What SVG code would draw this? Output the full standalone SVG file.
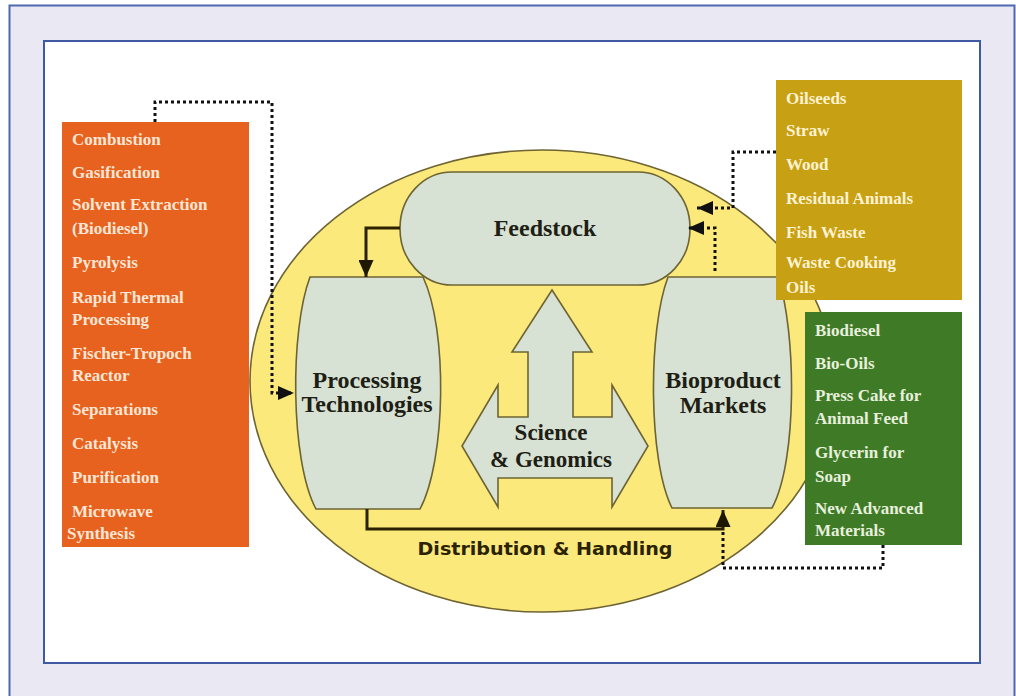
<svg xmlns="http://www.w3.org/2000/svg" width="1016" height="696" viewBox="0 0 1016 696">
<style>
.frame{fill:#e9e8f3;stroke:#4f68ad;stroke-width:2}
.inner{fill:#ffffff;stroke:#3f5aa3;stroke-width:2}
.hub{fill:#fbe97c;stroke:#6e6433;stroke-width:1.6}
.node{fill:#d7e2d4;stroke:#6e6433;stroke-width:1.6}
.lbl{font-family:"Liberation Serif","Times New Roman",serif;font-weight:bold;fill:#1e1e14;text-anchor:middle}
.big{font-size:24px}
.sci{font-size:23px}
.list{font-family:"Liberation Serif","Times New Roman",serif;font-weight:bold;font-size:17px}
.o{fill:#fde6d6}
.m{fill:#fdf3d2}
.g{fill:#e7f0dc}
.solid{fill:none;stroke:#2b2200;stroke-width:3}
.dot{fill:none;stroke:#111;stroke-width:3;stroke-dasharray:3 3}
.dist{font-family:"DejaVu Sans","Verdana",sans-serif;font-weight:bold;font-size:18px;fill:#2b2200;text-anchor:middle}
</style>
<defs>
<marker id="ah" viewBox="0 0 16 14" refX="16" refY="7" markerWidth="16" markerHeight="14" orient="auto" markerUnits="userSpaceOnUse">
<path d="M0,0 L16,7 L0,14 Z" fill="#111"/>
</marker>
<marker id="ahs" viewBox="0 0 17 15" refX="17" refY="7.5" markerWidth="17" markerHeight="15" orient="auto" markerUnits="userSpaceOnUse">
<path d="M0,0 L17,7.5 L0,15 Z" fill="#1e1800"/>
</marker>
</defs>

<g id="background">
<rect class="frame" x="9.5" y="5.5" width="1005" height="700"/>
<rect class="inner" x="44" y="41" width="936" height="622"/>
</g>

<g id="hub">
<ellipse class="hub" cx="542" cy="381" rx="292" ry="231"/>
</g>

<g id="processing">
<path class="node" d="M310,277 L423,277 C448,330 446,460 420,509 L316,509 C290,460 290,330 310,277 Z"/>
<text class="lbl big" x="367" y="388">Processing</text>
<text class="lbl big" x="367" y="412">Technologies</text>
</g>

<g id="bioproduct">
<path class="node" d="M668,277 L778,277 C796,330 798,460 772,508 L672,508 C648,460 648,330 668,277 Z"/>
<text class="lbl big" x="723" y="388">Bioproduct</text>
<text class="lbl big" x="723" y="413">Markets</text>
</g>

<g id="feedstock">
<rect class="node" x="400" y="172" width="290" height="113" rx="52" ry="56"/>
<text class="lbl big" x="545" y="236">Feedstock</text>
</g>

<g id="science">
<path class="node" d="M552,290 L592,352 L573,352 L573,417 L612,417 L612,385 L648,446 L612,507 L612,478 L498,478 L498,507 L462,446 L498,385 L498,417 L528,417 L528,352 L512,352 Z"/>
<text class="lbl sci" x="551" y="440">Science</text>
<text class="lbl sci" x="551" y="467">&amp; Genomics</text>
</g>

<g id="technologies">
<rect x="62" y="122" width="187" height="425" fill="#e6621e"/>
<g class="list o">
<text x="72" y="145">Combustion</text>
<text x="72" y="178">Gasification</text>
<text x="72" y="210">Solvent Extraction</text>
<text x="72" y="234">(Biodiesel)</text>
<text x="72" y="268">Pyrolysis</text>
<text x="72" y="303">Rapid Thermal</text>
<text x="72" y="325">Processing</text>
<text x="72" y="359">Fischer-Tropoch</text>
<text x="72" y="381">Reactor</text>
<text x="72" y="415">Separations</text>
<text x="72" y="449">Catalysis</text>
<text x="72" y="483">Purification</text>
<text x="72" y="517">Microwave</text>
<text x="67" y="539">Synthesis</text>
</g>
</g>

<g id="feedstocks">
<rect x="776" y="80" width="186" height="220" fill="#c8a013"/>
<g class="list m">
<text x="786" y="104">Oilseeds</text>
<text x="786" y="136">Straw</text>
<text x="786" y="170">Wood</text>
<text x="786" y="204">Residual Animals</text>
<text x="786" y="238">Fish Waste</text>
<text x="786" y="268">Waste Cooking</text>
<text x="786" y="293">Oils</text>
</g>
</g>

<g id="products">
<rect x="805" y="312" width="157" height="233" fill="#3f7a27"/>
<g class="list g">
<text x="815" y="336">Biodiesel</text>
<text x="815" y="369">Bio-Oils</text>
<text x="815" y="401">Press Cake for</text>
<text x="815" y="424">Animal Feed</text>
<text x="815" y="458">Glycerin for</text>
<text x="815" y="482">Soap</text>
<text x="815" y="514">New Advanced</text>
<text x="815" y="536">Materials</text>
</g>
</g>

<g id="connectors">
<path class="solid" d="M400,228 H366 V277" marker-end="url(#ahs)"/>
<path class="solid" d="M367,509 V529 H723 V510" marker-end="url(#ahs)"/>
<path class="dot" d="M155,122 V102 H272 V393 H294" marker-end="url(#ah)"/>
<path class="dot" d="M776,152 H733 V208 H697" marker-end="url(#ah)"/>
<path class="dot" d="M715,271 V228 H688" marker-end="url(#ah)"/>
<path class="dot" d="M883,545 V568 H723 V531"/>
<text class="dist" x="545" y="555" textLength="255" lengthAdjust="spacingAndGlyphs">Distribution &amp; Handling</text>
</g>
</svg>
